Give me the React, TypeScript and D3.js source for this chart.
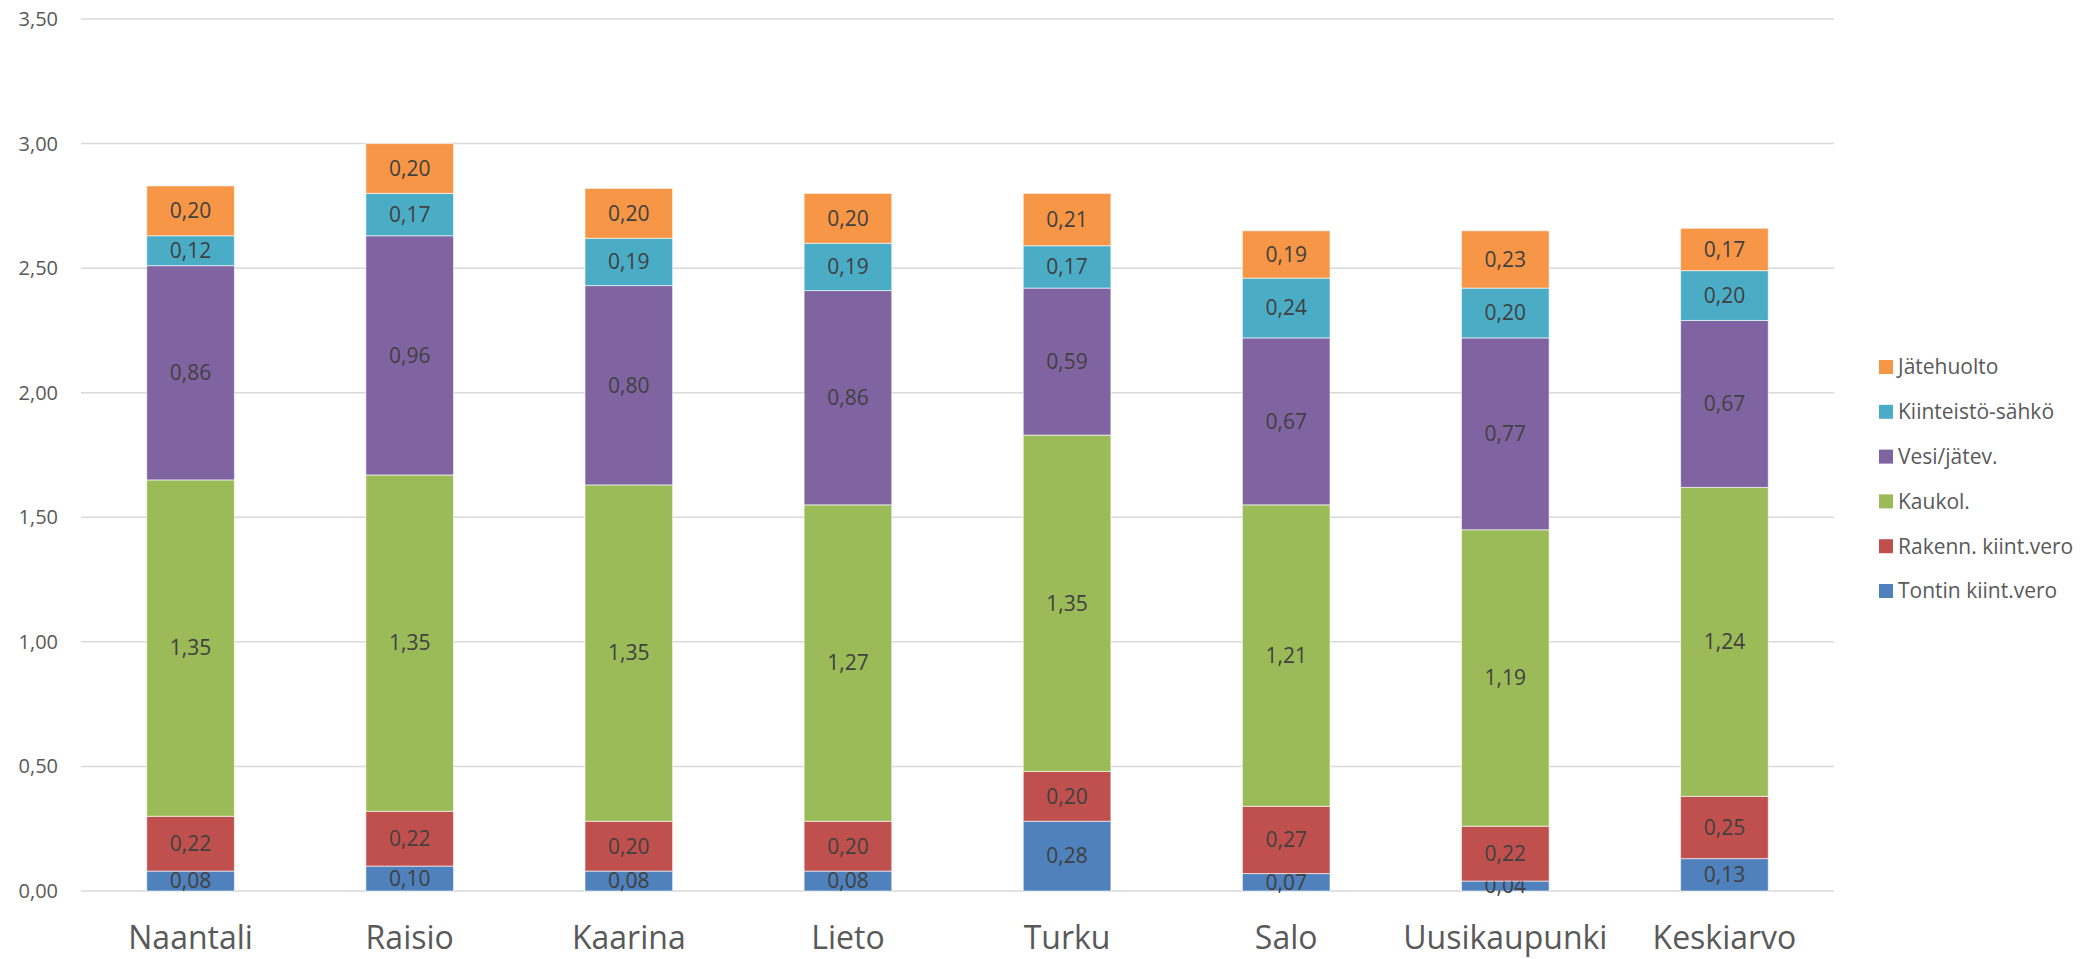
import { useEffect, useRef } from "react";
import * as d3 from "d3";

// categories (municipalities)
const categories = ["Naantali", "Raisio", "Kaarina", "Lieto", "Turku", "Salo", "Uusikaupunki", "Keskiarvo"];

// series, bottom -> top
const seriesNames = ["Tontin kiint.vero", "Rakenn. kiint.vero", "Kaukol.", "Vesi/jätev.", "Kiinteistö-sähkö", "Jätehuolto"];
const seriesColors = ["#4f81bd", "#c0504d", "#9bbb59", "#8064a2", "#4bacc6", "#f79646"];

const tontin = [0.08, 0.10, 0.08, 0.08, 0.28, 0.07, 0.04, 0.13];
const rakenn = [0.22, 0.22, 0.20, 0.20, 0.20, 0.27, 0.22, 0.25];
const kaukol = [1.35, 1.35, 1.35, 1.27, 1.35, 1.21, 1.19, 1.24];
const vesi = [0.86, 0.96, 0.80, 0.86, 0.59, 0.67, 0.77, 0.67];
const sahko = [0.12, 0.17, 0.19, 0.19, 0.17, 0.24, 0.20, 0.20];
const jate = [0.20, 0.20, 0.20, 0.20, 0.21, 0.19, 0.23, 0.17];

const yTicks = [0, 0.5, 1, 1.5, 2, 2.5, 3, 3.5];

const W = 2089;
const H = 959;
const FONT = "'Open Sans', Lato, sans-serif";

const fmt = (v: number) => v.toFixed(2).replace(".", ",");

export default function App() {
  const ref = useRef<SVGSVGElement>(null);

  useEffect(() => {
    if (!ref.current) return;
    const svg = d3.select(ref.current);
    svg.selectAll("*").remove();

    const margin = { top: 19, left: 81, right: W - 1834, bottom: H - 891 };
    const innerW = W - margin.left - margin.right;
    const innerH = H - margin.top - margin.bottom;

    const g = svg.append("g").attr("transform", `translate(${margin.left},${margin.top})`);

    // table for the stack
    const allSeries = [tontin, rakenn, kaukol, vesi, sahko, jate];
    const rows = categories.map((c, i) => {
      const r: any = { cat: c };
      seriesNames.forEach((s, k) => (r[s] = allSeries[k][i]));
      return r;
    });
    const stacked = d3.stack().keys(seriesNames)(rows);

    const x = d3.scaleBand().domain(categories).range([0, innerW]).paddingInner(0.6).paddingOuter(0.3);
    const y = d3.scaleLinear().domain([0, 3.5]).range([innerH, 0]);

    // gridlines
    g.append("g")
      .selectAll("line")
      .data(yTicks)
      .join("line")
      .attr("x1", 0)
      .attr("x2", innerW)
      .attr("y1", (d) => y(d))
      .attr("y2", (d) => y(d))
      .attr("stroke", "#d9d9d9")
      .attr("stroke-width", 1.5);

    // y tick labels
    g.append("g")
      .selectAll("text")
      .data(yTicks)
      .join("text")
      .attr("x", -23)
      .attr("y", (d) => y(d))
      .attr("dy", "0.35em")
      .attr("text-anchor", "end")
      .attr("fill", "#595959")
      .style("font-family", FONT)
      .style("font-size", "20px")
      .text((d) => fmt(d));

    // bars
    const layers = g
      .selectAll("g.layer")
      .data(stacked)
      .join("g")
      .attr("class", "layer")
      .attr("fill", (_d, i) => seriesColors[i]);

    layers
      .selectAll("rect")
      .data((d) => d)
      .join("rect")
      .attr("x", (d: any) => x(d.data.cat)!)
      .attr("width", x.bandwidth())
      .attr("y", (d) => y(d[1]))
      .attr("height", (d) => y(d[0]) - y(d[1]))
      .attr("stroke", "#ffffff")
      .attr("stroke-opacity", 0.6)
      .attr("stroke-width", 1);

    // value labels
    layers
      .selectAll("text")
      .data((d) => d)
      .join("text")
      .attr("x", (d: any) => x(d.data.cat)! + x.bandwidth() / 2)
      .attr("y", (d) => y((d[0] + d[1]) / 2))
      .attr("dy", "0.35em")
      .attr("text-anchor", "middle")
      .attr("fill", "#404040")
      .style("font-family", FONT)
      .style("font-size", "21px")
      .text((d) => fmt(d[1] - d[0]));

    // category labels
    g.append("g")
      .selectAll("text")
      .data(categories)
      .join("text")
      .attr("x", (d) => x(d)! + x.bandwidth() / 2)
      .attr("y", innerH + 58)
      .attr("text-anchor", "middle")
      .attr("fill", "#595959")
      .style("font-family", FONT)
      .style("font-size", "32px")
      .text((d) => d);

    // legend, top entry is last series
    const legend = svg.append("g").attr("transform", "translate(1879,367)");
    const legendItems = seriesNames.map((s, i) => ({ name: s, color: seriesColors[i] })).reverse();
    const li = legend
      .selectAll("g")
      .data(legendItems)
      .join("g")
      .attr("transform", (_d, i) => `translate(0,${i * 44.8})`);
    li.append("rect")
      .attr("x", 0)
      .attr("y", -7)
      .attr("width", 14)
      .attr("height", 14)
      .attr("fill", (d) => d.color);
    li.append("text")
      .attr("x", 19)
      .attr("y", 0)
      .attr("dy", "0.35em")
      .attr("fill", "#595959")
      .style("font-family", FONT)
      .style("font-size", "21px")
      .text((d) => d.name);
  }, []);

  return (
    <svg
      ref={ref}
      width={W}
      height={H}
      style={{ position: "absolute", left: 0, top: 0, background: "#fff" }}
    ></svg>
  );
}
